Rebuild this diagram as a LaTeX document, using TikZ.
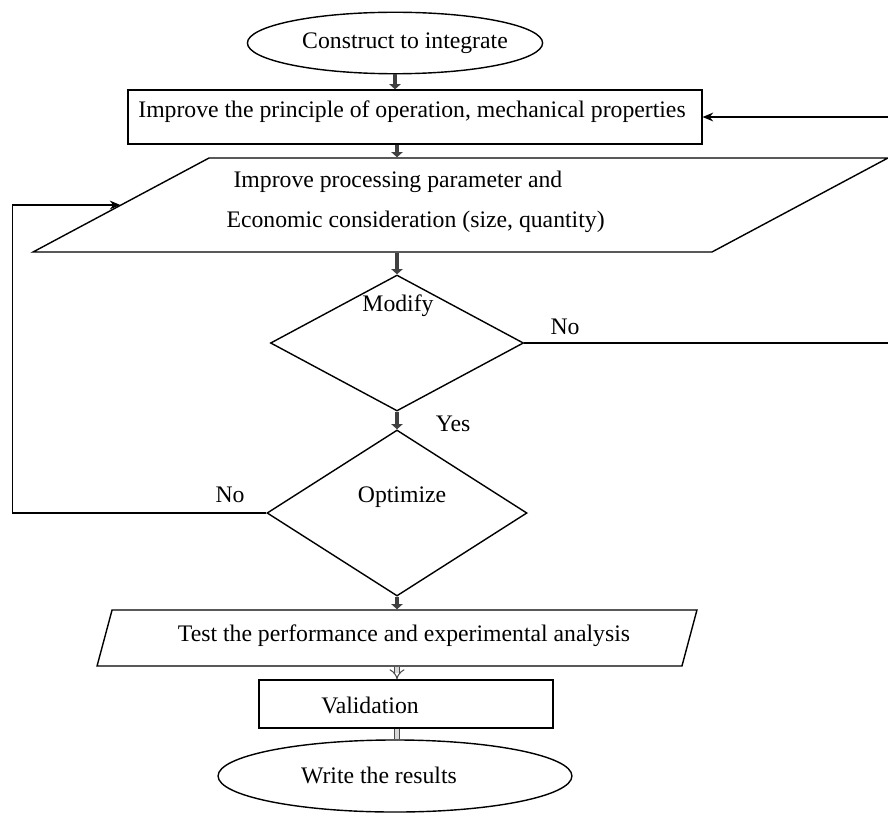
\documentclass[tikz,border=0pt]{standalone}
\usepackage{fontspec}
\setmainfont{Liberation Serif}
\usetikzlibrary{shapes.geometric,arrows.meta}

\begin{document}
\begin{tikzpicture}[x=0.02cm, y=-0.02cm, line width=0.8pt,
    font=\fontsize{13.5}{16}\selectfont,
    term/.style={draw, ellipse, inner sep=0pt},
    box/.style={draw, rectangle, inner sep=0pt},
    para/.style={draw, rectangle, inner sep=0pt},
    choice/.style={draw, diamond, inner sep=0pt},
    flow/.style={draw=black!75, line width=2.4pt, -{Triangle[length=3pt,width=6.5pt]}},
    hollow/.style={draw=black!70, line width=0.6pt, double=black!15, double distance=2.4pt},
    back/.style={line width=0.8pt, -{Stealth[length=6pt,width=5pt]}}]
    \useasboundingbox (0,0) rectangle (888,814);

    \node[term, minimum width=168pt, minimum height=35pt] (start) at (395,43) {};
    \node (starttxt) at (405,43) {Construct to integrate};
    \node[box, minimum width=326.6pt, minimum height=30.7pt] (impr) at (415,117) {};
    \node (imprtxt) at (412,112) {Improve the principle of operation, mechanical properties};
    \node[para, xslant=1.872, minimum width=386.4pt, minimum height=53.5pt] (proc) at (460.5,205) {};
    \node[anchor=west, align=left] (proctxt) at (220,202)
        {\hspace{4pt}Improve processing parameter and\\[7pt]Economic consideration (size, quantity)};
    \node[choice, minimum width=144pt, minimum height=77.4pt] (mod) at (397,343) {};
    \node (modtxt) at (398,306) {Modify};
    \node[choice, minimum width=148pt, minimum height=94.5pt] (opt) at (397,513) {};
    \node (opttxt) at (402,497) {Optimize};
    \node[para, xslant=0.268, minimum width=332.9pt, minimum height=31.9pt] (test) at (397,638) {};
    \node (testtxt) at (404,636) {Test the performance and experimental analysis};
    \node[box, minimum width=167.3pt, minimum height=27.3pt] (val) at (406,704) {};
    \node (valtxt) at (370,705) {Validation};
    \node[term, minimum width=201.4pt, minimum height=41pt] (finish) at (395,776) {};
    \node (finishtxt) at (379,775) {Write the results};

    \node (yes) at (453,424) {Yes};
    \node (nomod) at (565,327) {No};
    \node (noopt) at (230,495) {No};

    \draw[flow] (start.south) -- (start.south |- impr.north);
    \draw[flow] (impr.south -| mod) -- (proc.north -| mod);
    \draw[flow] (proc.south -| mod) -- (mod.north);
    \draw[flow] (mod.south) -- (opt.north);
    \draw[flow] (opt.south) -- (test.north -| opt);
    \draw[hollow, -{Implies}] (test.south -| opt) -- (val.north -| opt);
    \draw[hollow] (val.south -| opt) -- (finish.north -| opt);

    \draw[back] (mod.east) -- ++(365,0) |- (impr.east);
    \draw[back] (opt.west) -- ++(-254,0) |- (proc.west);
\end{tikzpicture}
\end{document}
